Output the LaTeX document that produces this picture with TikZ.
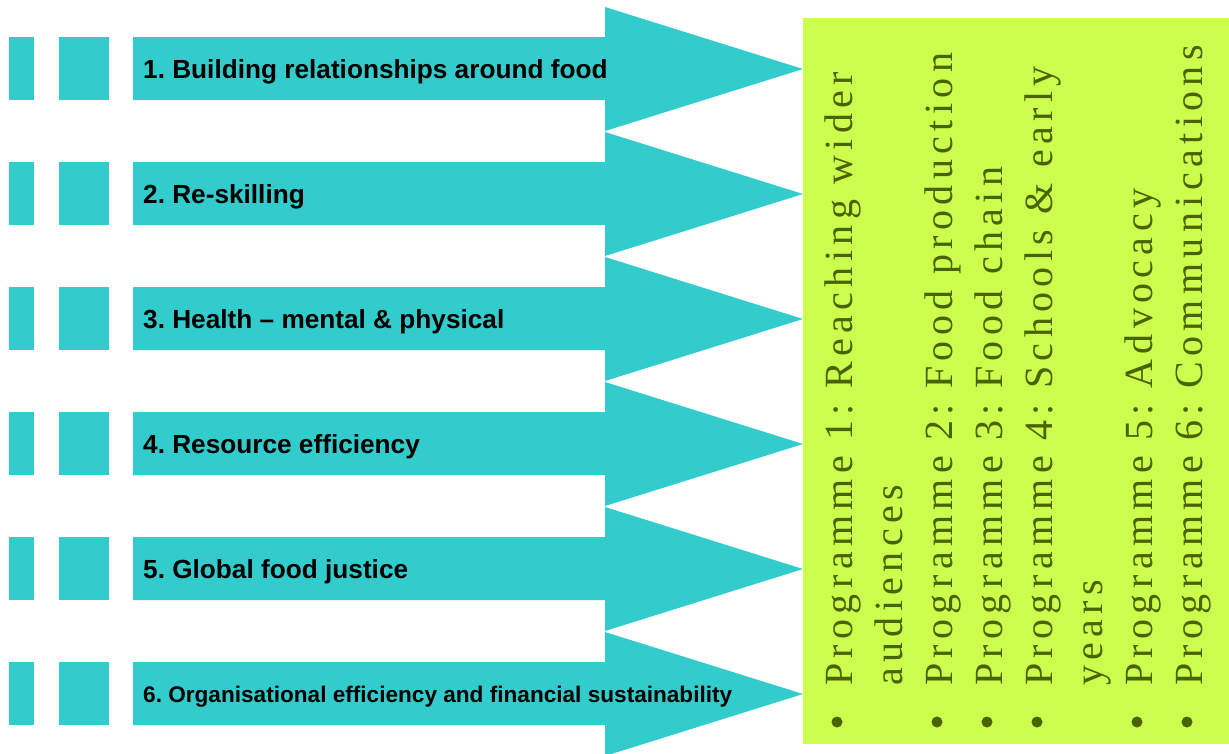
\documentclass[tikz,border=0pt]{standalone}
\usepackage{fontspec}
\setmainfont{Liberation Sans}
\newfontfamily\progfont[LetterSpace=13.5]{Liberation Serif}
\definecolor{teal0}{HTML}{33CCCC}
\definecolor{lime0}{HTML}{CCFF4D}
\definecolor{olive0}{HTML}{4A6300}
\frenchspacing
\begin{document}
\begin{tikzpicture}[x=1pt,y=-1pt,
  sq/.style={fill=teal0, draw=none, inner sep=0, anchor=north west, minimum height=63},
  lbl/.style={anchor=base west, inner sep=0, font=\fontsize{26.2}{26}\selectfont\bfseries},
  prog/.style={rotate=90, anchor=base west, inner sep=0, text=olive0, font=\progfont\fontsize{40}{40}\selectfont},
  dot/.style={circle, fill=olive0, minimum size=11, inner sep=0}]
\useasboundingbox (0,0) rectangle (1229,753);
\node[fill=lime0, minimum width=426, minimum height=726, anchor=north west, inner sep=0] (box) at (803,18) {};
\foreach \i/\t in {1/{1. Building relationships around food},2/{2. Re-skilling},3/{3. Health -- mental \& physical},4/{4. Resource efficiency},5/{5. Global food justice}}{
  \pgfmathsetmacro\c{69+125*(\i-1)}
  \fill[teal0] (133,\c-32) -- (605,\c-32) -- (605,\c-62) -- (803,\c) -- (605,\c+62) -- (605,\c+31) -- (133,\c+31) -- cycle;
  \node[sq, minimum width=25] (a\i) at (9,\c-32) {};
  \node[sq, minimum width=50] (b\i) at (59,\c-32) {};
  \node[lbl] (t\i) at (143,\c+9) {\t};
}
\pgfmathsetmacro\c{69+125*5}
\fill[teal0] (133,\c-32) -- (605,\c-32) -- (605,\c-62) -- (803,\c) -- (605,\c+62) -- (605,\c+31) -- (133,\c+31) -- cycle;
\node[sq, minimum width=25] (a6) at (9,\c-32) {};
\node[sq, minimum width=50] (b6) at (59,\c-32) {};
\node[lbl, font=\fontsize{22.6}{22.6}\selectfont\bfseries] (t6) at (143,\c+8) {6. Organisational efficiency and financial sustainability};
% programme list
\node[prog] (p1) at (852,686) {Programme 1: Reaching wider};
\node[prog] (p1b) at (902,686) {audiences};
\node[prog] (p2) at (952,686) {Programme 2: Food production};
\node[prog] (p3) at (1002,686) {Programme 3: Food chain};
\node[prog] (p4) at (1052,686) {Programme 4: Schools \& early};
\node[prog] (p4b) at (1102,686) {years};
\node[prog] (p5) at (1152,686) {Programme 5: Advocacy};
\node[prog] (p6) at (1202,686) {Programme 6: Communications};
\foreach \x/\n in {837/1,937/2,987/3,1037/4,1137/5,1187/6}
  \node[dot] (d\n) at (\x,722) {};
\end{tikzpicture}
\end{document}
